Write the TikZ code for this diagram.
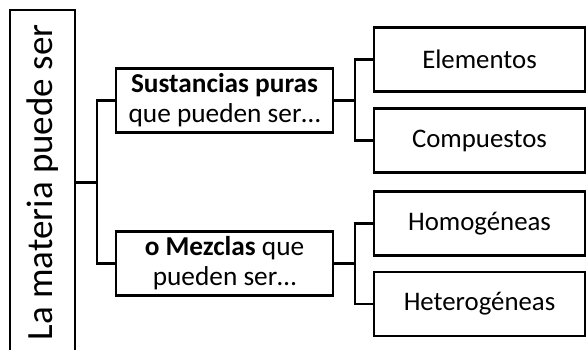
\documentclass[tikz,border=0pt]{standalone}
\usepackage{fontspec}
\setmainfont{Carlito}
\begin{document}
\begin{tikzpicture}[x=1pt,y=-1pt,
  box/.style={draw=black, line width=2.3pt, rectangle, inner sep=0pt, align=center, text=black},
  midbox/.style={box, minimum width=217pt, minimum height=64pt, font=\fontsize{27.3}{30}\selectfont},
  leafbox/.style={box, minimum width=211pt, minimum height=64pt, font=\fontsize{26.8}{30}\selectfont},
  link/.style={draw=black, line width=2.3pt}]
\useasboundingbox (0,0) rectangle (586,349);
\fill[white] (0,0) rectangle (586,349);
\node[box, rotate=90, minimum width=345pt, minimum height=65pt, font=\fontsize{37}{42}\selectfont] (root) at (42.5,182.5) {La materia puede ser};
\node[midbox] (sp) at (224.5,100.5) {\textbf{Sustancias puras}\\que pueden ser…};
\node[midbox] (mz) at (224.5,263.5) {\textbf{o Mezclas} que\\pueden ser…};
\node[leafbox] (el) at (479.5,59.5) {Elementos};
\node[leafbox] (co) at (479.5,140.5) {Compuestos};
\node[leafbox] (ho) at (479.5,223.5) {Homogéneas};
\node[leafbox] (he) at (479.5,304) {Heterogéneas};
\coordinate (j1) at (97,182.5);
\coordinate (j2) at (355,100.5);
\coordinate (j3) at (355,263.5);
\draw[link] (root.south) -- (j1);
\draw[link] (sp.west) -| (j1) |- (mz.west);
\draw[link] (sp.east) -- (j2);
\draw[link] (el.west) -| (j2) |- (co.west);
\draw[link] (mz.east) -- (j3);
\draw[link] (ho.west) -| (j3) |- (he.west);
\end{tikzpicture}
\end{document}
